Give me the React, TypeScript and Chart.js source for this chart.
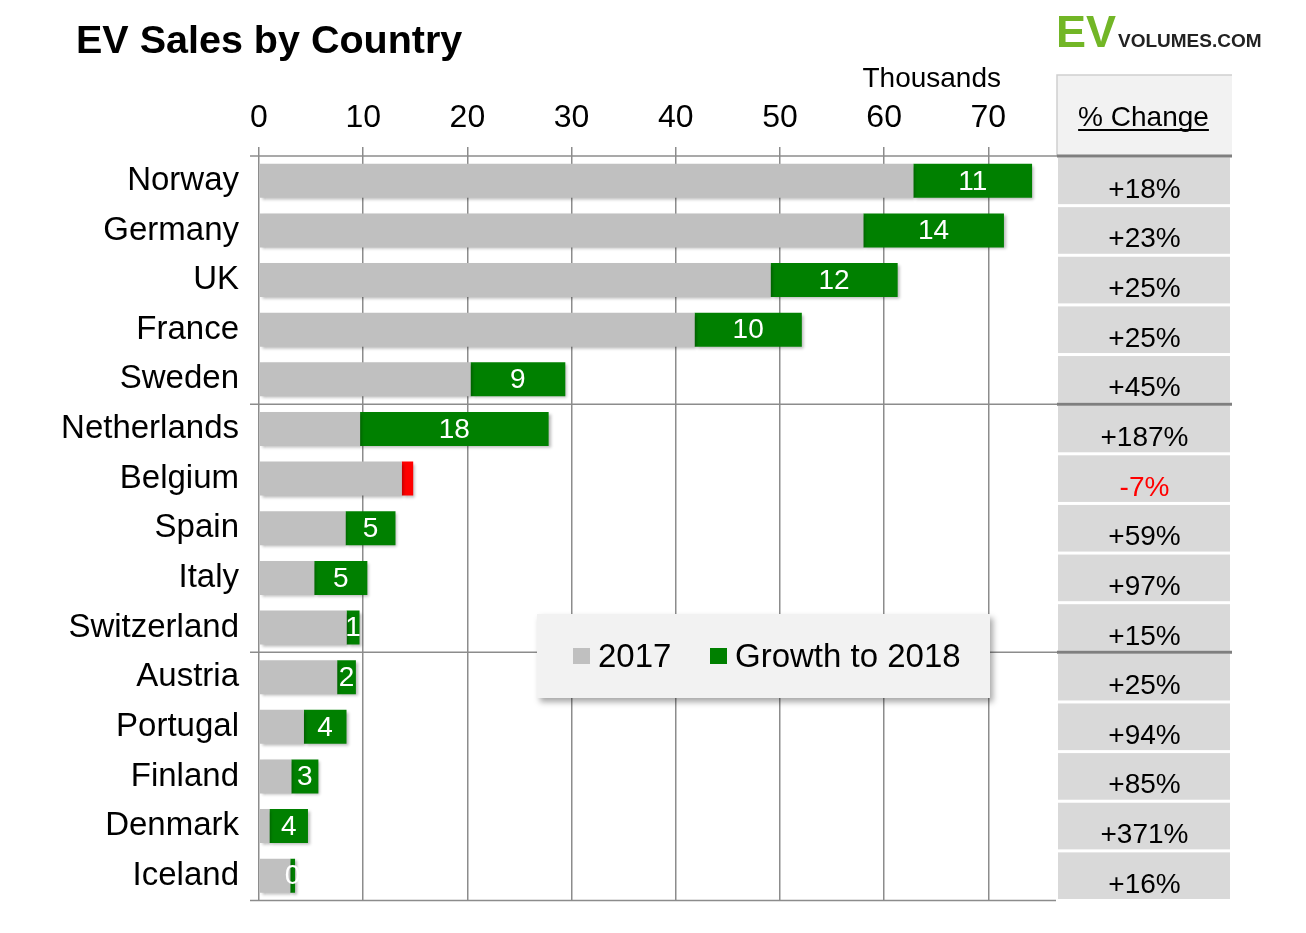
import React, { useEffect, useRef } from "react";
import { Chart, registerables } from "chart.js";

Chart.register(...registerables);

// ---- data (thousands of EVs) ----
const countries = [
  "Norway", "Germany", "UK", "France", "Sweden",
  "Netherlands", "Belgium", "Spain", "Italy", "Switzerland",
  "Austria", "Portugal", "Finland", "Denmark", "Iceland",
];
const sales2017 = [62.8, 58.0, 49.1, 41.8, 20.3, 9.7, 14.8, 8.3, 5.3, 8.4, 7.5, 4.3, 3.1, 1.0, 3.0];
const growthTo2018 = [11.4, 13.5, 12.2, 10.3, 9.1, 18.1, -1.1, 4.8, 5.1, 1.25, 1.8, 4.1, 2.6, 3.7, 0.46];
const growthLabels = ["11", "14", "12", "10", "9", "18", "", "5", "5", "1", "2", "4", "3", "4", "0"];
const pctChange = ["+18%", "+23%", "+25%", "+25%", "+45%", "+187%", "-7%", "+59%", "+97%", "+15%", "+25%", "+94%", "+85%", "+371%", "+16%"];
const xTicks = [0, 10, 20, 30, 40, 50, 60, 70];
const groupBreaks = [5, 10];

const FONT = "'Liberation Sans', Arial, Helvetica, sans-serif";
const GRAY = "#c0c0c0";
const GREEN = "#008000";
const RED = "#ff0000";

const baseData = sales2017.map((v, i) => (growthTo2018[i] < 0 ? v + growthTo2018[i] : v));
const deltaData = growthTo2018.map((g) => Math.abs(g));
const deltaColors = growthTo2018.map((g) => (g < 0 ? RED : GREEN));

const extrasPlugin = {
  id: "extras",
  beforeDatasetsDraw(chart: any) {
    const ctx = chart.ctx;
    ctx.save();
    ctx.shadowColor = "rgba(0,0,0,0.28)";
    ctx.shadowBlur = 3;
    ctx.shadowOffsetX = 2;
    ctx.shadowOffsetY = 2;
  },
  afterDatasetsDraw(chart: any) {
    const ctx = chart.ctx;
    ctx.restore();
    const meta = chart.getDatasetMeta(1);
    ctx.save();
    ctx.font = `28px ${FONT}`;
    ctx.fillStyle = "#ffffff";
    ctx.textAlign = "center";
    ctx.textBaseline = "middle";
    meta.data.forEach((bar: any, i: number) => {
      const t = growthLabels[i];
      if (!t) return;
      const cx = (bar.x + bar.base) / 2;
      ctx.fillText(t, cx, bar.y + 1);
    });
    ctx.restore();
  },
  afterDraw(chart: any) {
    const ctx = chart.ctx;
    const area = chart.chartArea;
    const ys = chart.scales.y;
    const n = countries.length;
    const rowH = (area.bottom - area.top) / n;
    ctx.save();

    // title
    ctx.fillStyle = "#000";
    ctx.font = `bold 39.5px ${FONT}`;
    ctx.textAlign = "left";
    ctx.textBaseline = "alphabetic";
    ctx.fillText("EV Sales by Country", 68, 45);

    // logo
    ctx.fillStyle = "#72b626";
    ctx.font = `bold 45px ${FONT}`;
    ctx.fillText("EV", 1048, 39);
    ctx.fillStyle = "#222";
    ctx.font = `bold 19px ${FONT}`;
    ctx.fillText("VOLUMES.COM", 1110, 39);

    // Thousands
    ctx.fillStyle = "#000";
    ctx.font = `28px ${FONT}`;
    ctx.textAlign = "right";
    ctx.fillText("Thousands", 993, 79);

    // table header
    const tL = 1049, tR = 1224;
    ctx.fillStyle = "#f2f2f2";
    ctx.fillRect(tL, 67, tR - tL, area.top - 67);
    ctx.strokeStyle = "#cfcfcf";
    ctx.lineWidth = 1.5;
    ctx.beginPath();
    ctx.moveTo(tL, area.top);
    ctx.lineTo(tL, 67);
    ctx.lineTo(tR, 67);
    ctx.stroke();
    ctx.fillStyle = "#000";
    ctx.font = `28px ${FONT}`;
    ctx.textAlign = "center";
    const hx = (tL + tR) / 2 - 1;
    ctx.fillText("% Change", hx, 118);
    const hw = ctx.measureText("% Change").width;
    ctx.fillRect(hx - hw / 2, 121, hw, 2);

    // table cells
    for (let i = 0; i < n; i++) {
      const cy = ys.getPixelForValue(i);
      ctx.fillStyle = "#d9d9d9";
      ctx.fillRect(tL + 1, cy - rowH / 2 + 1.5, tR - tL - 3, rowH - 3);
      ctx.fillStyle = pctChange[i].startsWith("-") ? RED : "#000";
      ctx.font = `28px ${FONT}`;
      ctx.textAlign = "center";
      ctx.fillText(pctChange[i], (tL + tR) / 2, cy + 17);
    }

    // separators
    const sepLeft = area.left - 9;
    const drawSep = (y: number, full: boolean) => {
      ctx.strokeStyle = "#8c8c8c";
      ctx.lineWidth = 1.5;
      ctx.beginPath();
      ctx.moveTo(sepLeft, y);
      ctx.lineTo(full ? tL : area.right + 1, y);
      ctx.stroke();
      if (full) {
        ctx.strokeStyle = "#7f7f7f";
        ctx.lineWidth = 3;
        ctx.beginPath();
        ctx.moveTo(tL, y);
        ctx.lineTo(tR, y);
        ctx.stroke();
      }
    };
    drawSep(area.top, true);
    groupBreaks.forEach((b) => {
      const y = (ys.getPixelForValue(b - 1) + ys.getPixelForValue(b)) / 2;
      drawSep(y, true);
    });
    drawSep(area.bottom, false);

    // legend box
    const lx = 529, ly = 606, lw = 453, lh = 84;
    ctx.save();
    ctx.shadowColor = "rgba(0,0,0,0.35)";
    ctx.shadowBlur = 6;
    ctx.shadowOffsetX = 3;
    ctx.shadowOffsetY = 4;
    ctx.fillStyle = "#f2f2f2";
    ctx.fillRect(lx, ly, lw, lh);
    ctx.restore();
    const items = [
      { text: chart.data.datasets[0].label, color: GRAY, sx: 565, tx: 590 },
      { text: chart.data.datasets[1].label, color: GREEN, sx: 702, tx: 727 },
    ];
    ctx.font = `33px ${FONT}`;
    ctx.textAlign = "left";
    items.forEach((it) => {
      ctx.fillStyle = it.color;
      ctx.fillRect(it.sx, 640, 17, 16);
      ctx.fillStyle = "#000";
      ctx.fillText(it.text, it.tx, 659);
    });

    ctx.restore();
  },
};

export default function App() {
  const ref = useRef<HTMLCanvasElement | null>(null);
  useEffect(() => {
    if (!ref.current) return;
    const chart = new Chart(ref.current, {
      type: "bar",
      data: {
        labels: countries,
        datasets: [
          {
            label: "2017",
            data: baseData,
            backgroundColor: GRAY,
            barPercentage: 0.685,
            categoryPercentage: 1,
          },
          {
            label: "Growth to 2018",
            data: deltaData,
            backgroundColor: deltaColors,
            barPercentage: 0.685,
            categoryPercentage: 1,
          },
        ],
      },
      options: {
        indexAxis: "y",
        animation: false,
        responsive: true,
        maintainAspectRatio: false,
        layout: { padding: { left: 0, right: 243, top: 0, bottom: 24.5 } },
        plugins: {
          legend: { display: false },
          title: { display: false },
          tooltip: { enabled: false },
        },
        scales: {
          x: {
            position: "top",
            stacked: true,
            min: 0,
            max: 76.4,
            afterBuildTicks: (s: any) => {
              s.ticks = xTicks.map((v) => ({ value: v }));
            },
            afterFit: (s: any) => {
              s.height = 148;
              s.paddingLeft = 0;
              s.paddingRight = 0;
            },
            ticks: {
              font: { size: 32, family: FONT },
              color: "#000",
              padding: 10,
              maxRotation: 0,
            },
            grid: {
              color: "#8c8c8c",
              lineWidth: 1.5,
              tickLength: 9,
              drawTicks: true,
            },
            border: { display: false },
          },
          y: {
            stacked: true,
            afterFit: (s: any) => {
              s.width = 251;
              s.paddingTop = 0;
              s.paddingBottom = 0;
            },
            ticks: {
              font: { size: 33, family: FONT },
              color: "#000",
              padding: 20,
            },
            grid: { display: false, drawTicks: false },
            border: { display: false },
          },
        },
      } as any,
      plugins: [extrasPlugin],
    });
    return () => chart.destroy();
  }, []);
  return (
    <div style={{ width: 1290, height: 917, position: "relative" }}>
      <canvas ref={ref} />
    </div>
  );
}
